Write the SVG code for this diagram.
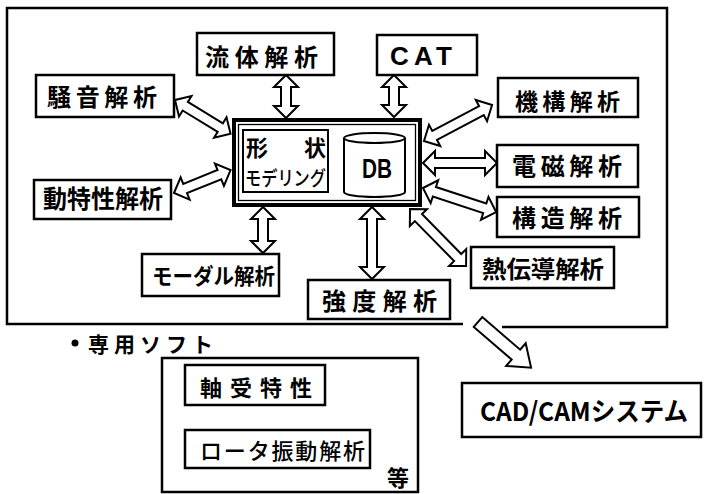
<svg xmlns="http://www.w3.org/2000/svg" width="704" height="494" viewBox="0 0 704 494">
<style>
.box{fill:#fff;stroke:#000;stroke-width:2.5}
.frame{fill:none;stroke:#000;stroke-width:2.5}
.arr{fill:#fff;stroke:#000;stroke-width:2;stroke-linejoin:miter}
.t{font-family:"Noto Sans CJK JP","Noto Sans",sans-serif;font-weight:bold;fill:#000}
.l{font-family:"Liberation Sans",Arial,sans-serif;font-weight:bold;fill:#000}
</style>
<rect width="704" height="494" fill="#fff"/>
<g id="outer-frame">
<path class="frame" d="M463,324 L7,324 L7,8 L667,8 L667,327 L502,327"/>
</g>
<g id="connectors">
<polygon class="arr" transform="translate(286,75) rotate(90)" points="0,0 12,-12 12,-5 31,-5 31,-12 43,0 31,12 31,5 12,5 12,12"/>
<polygon class="arr" transform="translate(394,75) rotate(90)" points="0,0 12,-12 12,-5 30,-5 30,-12 42,0 30,12 30,5 12,5 12,12"/>
<polygon class="arr" transform="translate(175,100) rotate(31.3)" points="0,0 12,-12 12,-5 53,-5 53,-12 65,0 53,12 53,5 12,5 12,12"/>
<polygon class="arr" transform="translate(174,193) rotate(-22)" points="0,0 12,-12 12,-5 49,-5 49,-12 61,0 49,12 49,5 12,5 12,12"/>
<polygon class="arr" transform="translate(263,207) rotate(90)" points="0,0 12,-12 12,-5 34,-5 34,-12 46,0 34,12 34,5 12,5 12,12"/>
<polygon class="arr" transform="translate(372,207) rotate(90)" points="0,0 12,-12 12,-5 60,-5 60,-12 72,0 60,12 60,5 12,5 12,12"/>
<polygon class="arr" transform="translate(424,141) rotate(-27.9)" points="0,0 12,-12 12,-5 65,-5 65,-12 77,0 65,12 65,5 12,5 12,12"/>
<polygon class="arr" transform="translate(423,163)" points="0,0 12,-12 12,-5 62,-5 62,-12 74,0 62,12 62,5 12,5 12,12"/>
<polygon class="arr" transform="translate(423,188) rotate(18.2)" points="0,0 12,-12 12,-5 65,-5 65,-12 77,0 65,12 65,5 12,5 12,12"/>
<polygon class="arr" transform="translate(410,209) rotate(45.5)" points="0,0 12,-12 12,-5 68,-5 68,-12 80,0 68,12 68,5 12,5 12,12"/>
<polygon class="arr" transform="translate(478,322) rotate(40.7)" points="0,-6.5 50,-6.5 50,-15 70,0 50,15 50,6.5 0,6.5"/>
</g>
<g id="center">
<rect x="234" y="120" width="186" height="85" fill="#fff" stroke="#000" stroke-width="4"/>
<rect x="238.5" y="124.5" width="177" height="76" fill="none" stroke="#000" stroke-width="1.3"/>
<rect x="243" y="130" width="85" height="62" fill="#fff" stroke="#000" stroke-width="2"/>
<text class="t" x="246" y="156" font-size="22">形</text>
<text class="t" x="304" y="156" font-size="22">状</text>
<text class="t" x="245" y="186" font-size="20" textLength="81" lengthAdjust="spacingAndGlyphs" style="font-weight:500">モデリング</text>
<path d="M344,138 V192 A30.5,5 0 0 0 405,192 V138" fill="#fff" stroke="#000" stroke-width="2"/>
<ellipse cx="374.5" cy="138" rx="30.5" ry="5" fill="#fff" stroke="#000" stroke-width="2"/>
<text class="l" x="362" y="178" font-size="28" textLength="30" lengthAdjust="spacingAndGlyphs">DB</text>
</g>
<g id="n-ryutai"><rect class="box" x="197" y="33" width="137" height="42"/><text class="t" x="205" y="66" font-size="24" textLength="113">流体解析</text></g>
<g id="n-soon"><rect class="box" x="36" y="75" width="138" height="42"/><text class="t" x="47" y="106" font-size="24" textLength="110">騒音解析</text></g>
<g id="n-cat"><rect class="box" x="377" y="35" width="100" height="40"/><text class="l" x="390" y="65" font-size="26" textLength="62">CAT</text></g>
<g id="n-kiko"><rect class="box" x="498" y="78" width="140" height="39"/><text class="t" x="515" y="110" font-size="23" textLength="105">機構解析</text></g>
<g id="n-denji"><rect class="box" x="497" y="145" width="141" height="42"/><text class="t" x="512" y="175" font-size="24" textLength="110">電磁解析</text></g>
<g id="n-kozo"><rect class="box" x="497" y="197" width="142" height="40"/><text class="t" x="512" y="227" font-size="24" textLength="110">構造解析</text></g>
<g id="n-netsu"><rect class="box" x="471" y="247" width="143" height="41"/><text class="t" x="482" y="278" font-size="24" textLength="122" lengthAdjust="spacingAndGlyphs">熱伝導解析</text></g>
<g id="n-kyodo"><rect class="box" x="308" y="280" width="142" height="39"/><text class="t" x="322" y="310" font-size="24" textLength="115">強度解析</text></g>
<g id="n-modal"><rect class="box" x="142" y="254" width="137" height="42"/><text class="t" x="152" y="284" font-size="22" textLength="123" lengthAdjust="spacingAndGlyphs">モーダル解析</text></g>
<g id="n-dotokusei"><rect class="box" x="34" y="180" width="137" height="39"/><text class="t" x="43" y="208" font-size="25" textLength="120" lengthAdjust="spacingAndGlyphs">動特性解析</text></g>
<g id="n-senyo">
<circle cx="75" cy="343" r="3.5" fill="#000"/>
<text class="t" x="88" y="352" font-size="21" textLength="125">専用ソフト</text>
</g>
<g id="n-soft">
<rect class="box" x="162" y="358" width="256" height="134"/>
<rect class="box" x="185" y="365" width="140" height="40"/>
<text class="t" x="200" y="396" font-size="22" textLength="112">軸受特性</text>
<rect class="box" x="185" y="430" width="185" height="38"/>
<text class="t" x="200" y="459" font-size="22" textLength="165" style="font-weight:500">ロータ振動解析</text>
<text class="t" x="387" y="486" font-size="22">等</text>
</g>
<g id="n-cadcam"><rect class="box" x="462" y="383" width="239" height="54"/><text class="t" x="480" y="421" font-size="26" textLength="208" lengthAdjust="spacingAndGlyphs">CAD/CAMシステム</text></g>
</svg>
